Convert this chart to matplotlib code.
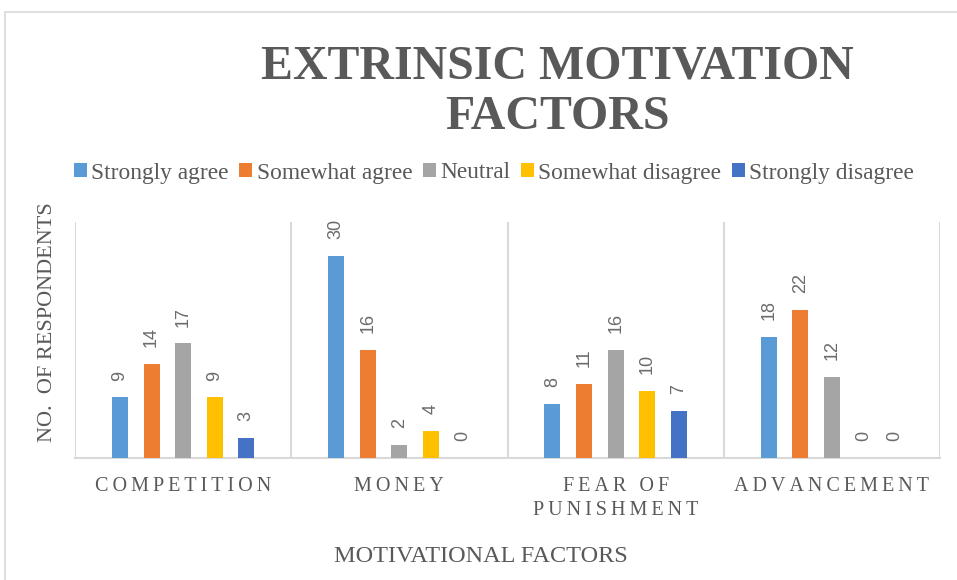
import numpy as np
import matplotlib
matplotlib.use("Agg")
import matplotlib.pyplot as plt
from matplotlib.patches import Rectangle

# data
categories = ["COMPETITION", "MONEY", "FEAR OF\nPUNISHMENT", "ADVANCEMENT"]
series = ["Strongly agree", "Somewhat agree", "Neutral", "Somewhat disagree", "Strongly disagree"]
strongly_agree = [9, 30, 8, 18]
somewhat_agree = [14, 16, 11, 22]
neutral = [17, 2, 16, 12]
somewhat_disagree = [9, 4, 10, 0]
strongly_disagree = [3, 0, 7, 0]
values = [strongly_agree, somewhat_agree, neutral, somewhat_disagree, strongly_disagree]
colors = ["#5B9BD5", "#ED7D31", "#A5A5A5", "#FFC000", "#4472C4"]

text_col = "#595959"
grid_col = "#D9D9D9"
serif = ["Liberation Serif", "DejaVu Serif"]

fig = plt.figure(figsize=(9.57, 5.8), dpi=100)
ax = fig.add_axes([75 / 957, 1 - 458 / 580, 865 / 957, 236 / 580])

# outer chart frame
fig.patches.append(Rectangle((5 / 957, -0.1), 1.2, 1 - 12 / 580 + 0.1, transform=fig.transFigure,
                             fill=False, edgecolor=grid_col, linewidth=1.2))

x = np.arange(len(categories))
step = 0.146
width = 0.074
for i, (name, vals, c) in enumerate(zip(series, values, colors)):
    pos = x + (i - 2) * step
    ax.bar(pos, vals, width, color=c, label=name, zorder=3)
    for xp, v in zip(pos, vals):
        ax.annotate(str(v), (xp, v), xytext=(0, 12), textcoords="offset points",
                    rotation=90, ha="center", va="bottom", fontsize=13,
                    family="Liberation Sans", color="#6b6b6b")

ax.set_xlim(-0.5, 3.5)
ax.set_ylim(0, 35)
ax.set_yticks([])
for b in np.arange(-0.5, 4.0, 1.0):
    ax.axvline(b, color=grid_col, linewidth=1.5, zorder=1)
for s in ["top", "right", "left"]:
    ax.spines[s].set_visible(False)
ax.spines["bottom"].set_color(grid_col)
ax.spines["bottom"].set_linewidth(1.5)

spaced = ["\u2009".join(list(c)).replace("\u2009\n\u2009", "\n") for c in categories]
ax.set_xticks(x)
ax.set_xticklabels(spaced, fontsize=14.5, family=serif, color=text_col, linespacing=1.3)
ax.tick_params(axis="x", length=0, pad=14)

fig.text(557 / 957, 1 - 92 / 580, "EXTRINSIC MOTIVATION\nFACTORS", ha="center", va="center",
         fontsize=34.5, fontweight="bold", family=serif, color=text_col, linespacing=1.2)

fig.legend(loc="center", bbox_to_anchor=(494 / 957, 1 - 173 / 580), ncol=5, frameon=False,
           prop={"family": serif, "size": 16.8}, labelcolor=text_col,
           handlelength=0.55, handleheight=0.55, handletextpad=0.2, columnspacing=0.45)

fig.text(48 / 957, 1 - 322 / 580, "NO.  OF RESPONDENTS", rotation=90, ha="center", va="center",
         fontsize=16, family=serif, color=text_col)
fig.text(481 / 957, 1 - 556 / 580, "MOTIVATIONAL FACTORS", ha="center", va="center",
         fontsize=17.5, family=serif, color=text_col)

fig.savefig("out.png", dpi=100)
